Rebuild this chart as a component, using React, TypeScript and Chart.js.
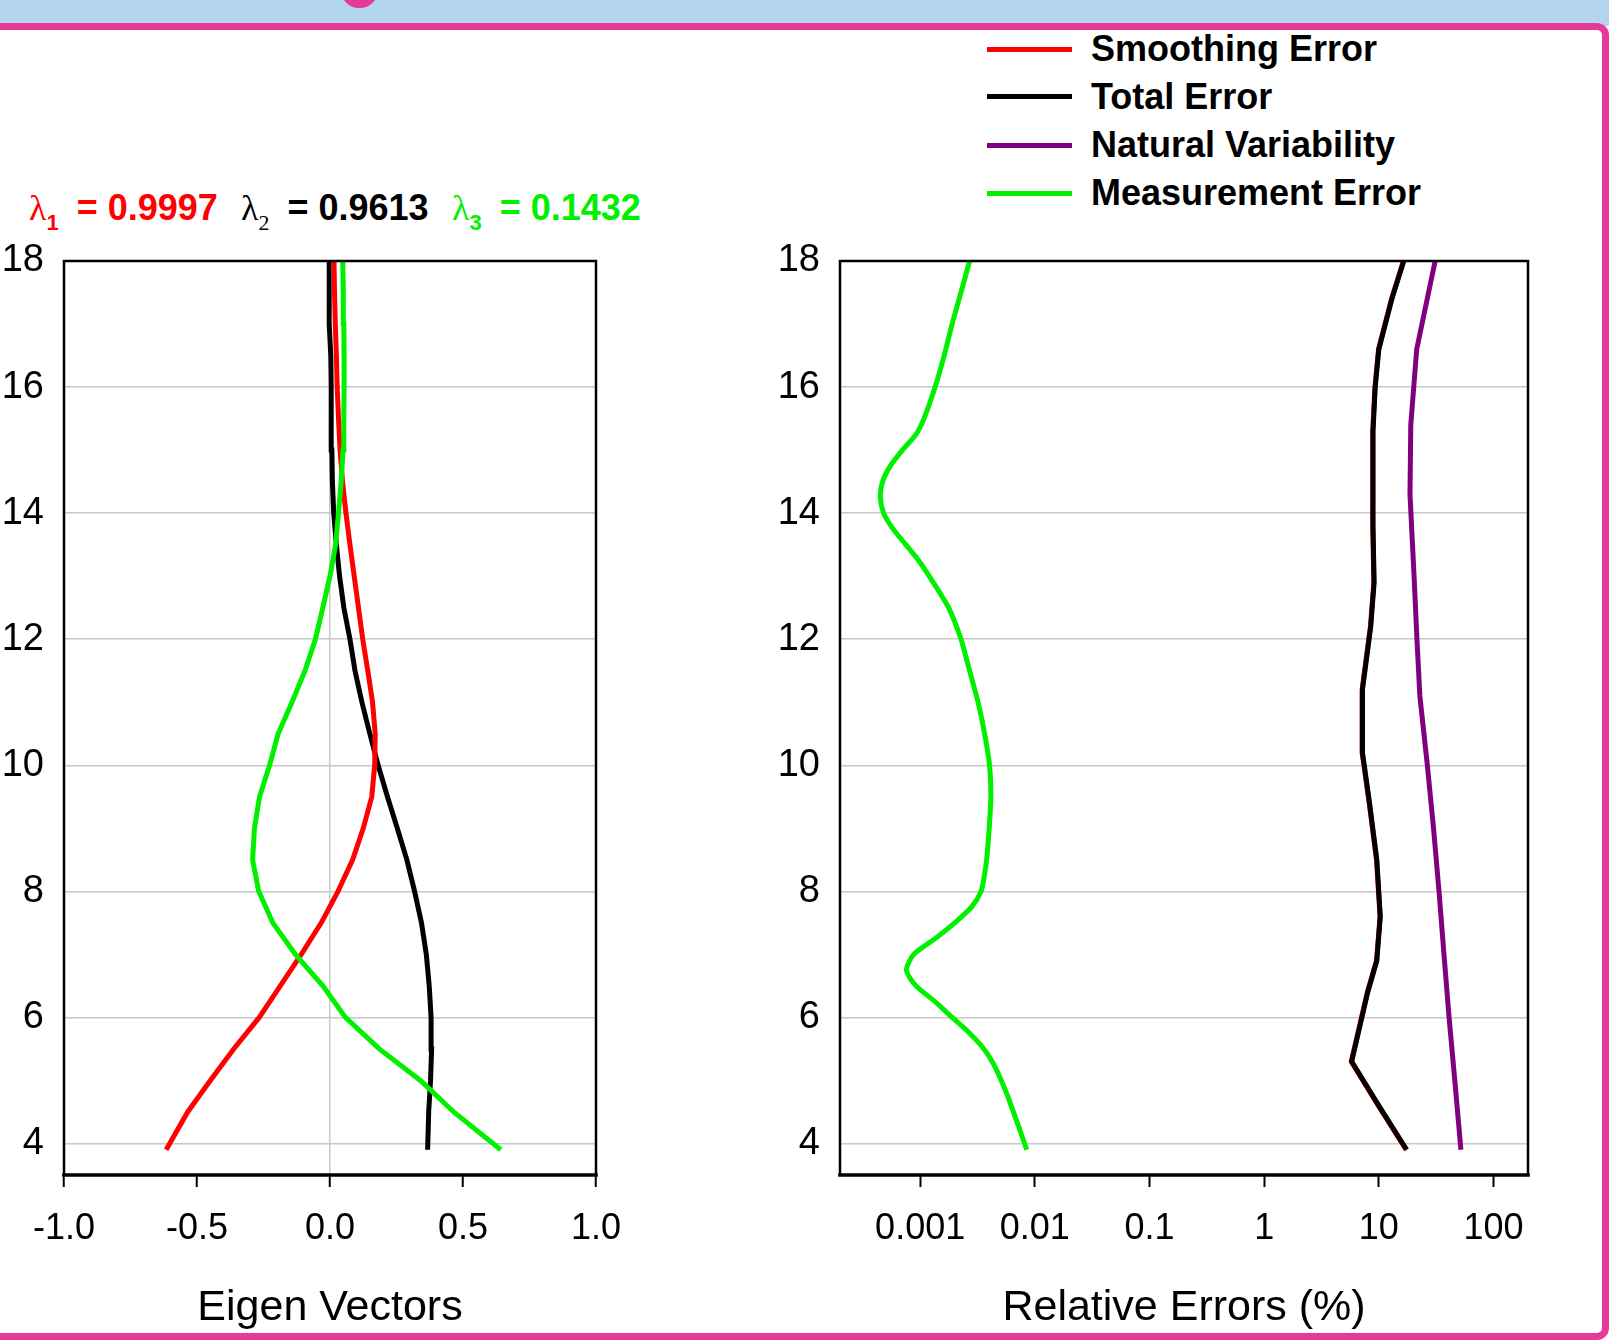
import React, { useEffect, useRef } from "react";
import { Chart, registerables } from "chart.js";

Chart.register(...registerables);

// ---------- data: left panel (eigen vectors vs altitude) ----------
const altLeft = [3.9, 4.5, 5.0, 5.5, 6.0, 6.5, 7.0, 7.5, 8.0, 8.5, 9.0, 9.5, 10.0, 10.5, 11.0, 11.5, 12.0, 12.5, 13.0, 13.5, 14.0, 14.5, 15.0, 15.5, 16.0, 16.5, 17.0, 17.5, 18.0];
const lambda1Vec = [-0.616, -0.535, -0.45, -0.362, -0.266, -0.187, -0.108, -0.033, 0.03, 0.085, 0.125, 0.157, 0.168, 0.17, 0.16, 0.142, 0.123, 0.107, 0.091, 0.075, 0.06, 0.047, 0.038, 0.032, 0.027, 0.024, 0.02, 0.017, 0.015];
const lambda2Vec = [0.367, 0.371, 0.378, 0.382, 0.38, 0.373, 0.362, 0.344, 0.318, 0.289, 0.253, 0.216, 0.181, 0.15, 0.12, 0.094, 0.075, 0.052, 0.036, 0.024, 0.014, 0.009, 0.007, 0.005, 0.004, 0.003, -0.003, -0.003, -0.003];
const lambda3Vec = [0.642, 0.465, 0.34, 0.185, 0.058, -0.027, -0.13, -0.215, -0.268, -0.291, -0.284, -0.265, -0.227, -0.195, -0.143, -0.094, -0.055, -0.027, 0.0, 0.021, 0.032, 0.042, 0.049, 0.052, 0.053, 0.053, 0.052, 0.05, 0.048];

// ---------- data: right panel (relative errors vs altitude) ----------
const altMeasurement = [3.9, 4.25, 4.5, 4.75, 5.0, 5.25, 5.5, 5.75, 6.0, 6.25, 6.5, 6.75, 7.0, 7.25, 7.5, 7.75, 8.0, 8.25, 8.5, 9.0, 9.5, 10.0, 10.5, 11.0, 11.5, 12.0, 12.5, 13.0, 13.25, 13.5, 13.75, 14.0, 14.25, 14.5, 14.75, 15.0, 15.25, 15.5, 16.0, 16.5, 17.0, 17.5, 18.0];
const measurementErr = [0.0085, 0.0073, 0.0065, 0.0058, 0.0051, 0.0044, 0.0036, 0.0027, 0.0019, 0.00135, 0.00092, 0.00076, 0.00088, 0.00135, 0.002, 0.0028, 0.0034, 0.00363, 0.0038, 0.004, 0.00414, 0.00403, 0.00365, 0.0032, 0.0027, 0.00227, 0.00177, 0.0012, 0.00097, 0.00075, 0.00058, 0.00048, 0.00045, 0.00047, 0.00055, 0.0007, 0.00092, 0.00108, 0.00135, 0.00162, 0.0019, 0.00227, 0.0027];

const altTotal = [3.9, 4.6, 5.3, 6.4, 6.9, 7.6, 8.5, 9.4, 10.2, 11.2, 12.2, 12.9, 13.8, 15.3, 16.0, 16.6, 17.4, 18.0];
const totalErr = [17.5, 10.0, 5.8, 8.0, 9.6, 10.3, 9.6, 8.3, 7.2, 7.2, 8.5, 9.1, 8.9, 8.9, 9.3, 10.0, 13.0, 16.5];
const smoothingErr = [17.3, 9.9, 5.75, 7.95, 9.55, 10.25, 9.55, 8.25, 7.15, 7.15, 8.45, 9.05, 8.85, 8.85, 9.25, 9.95, 12.9, 16.4];

const altNatural = [3.9, 5.0, 6.0, 7.0, 8.0, 9.0, 10.0, 11.1, 12.0, 13.0, 14.3, 15.4, 16.6, 18.0];
const naturalVar = [52, 46, 41, 37, 33.5, 30, 26.5, 22.8, 21.5, 20.3, 18.7, 19.0, 21.4, 31];

// ---------- ticks & labels ----------
const eigenTicks = [-1.0, -0.5, 0.0, 0.5, 1.0];
const errorTicks = [0.001, 0.01, 0.1, 1, 10, 100];
const altTicks = [4, 6, 8, 10, 12, 14, 16, 18];
const lambdaNames = ["1", "2", "3"];
const lambdaValues = ["0.9997", "0.9613", "0.1432"];
const legendLabels = ["Smoothing Error", "Total Error", "Natural Variability", "Measurement Error"];

const RED = "#FF0000";
const BLACK = "#000000";
const PURPLE = "#800080";
const GREEN = "#00F000";
const GRID = "#C8C8C8";
const PINK = "#E8399B";
const BLUE = "#B3D6EE";
const FONT = "'Liberation Sans', Arial, Helvetica, sans-serif";

const lambdaColors = [RED, BLACK, GREEN];
const legendColors = [RED, BLACK, PURPLE, GREEN];

const framePlugin = {
  id: "frame",
  afterDatasetsDraw(chart: any) {
    const { ctx, chartArea: a } = chart;
    ctx.save();
    ctx.strokeStyle = "#000";
    ctx.lineCap = "square";
    ctx.lineWidth = 2.5;
    ctx.beginPath();
    ctx.moveTo(a.left, a.bottom);
    ctx.lineTo(a.left, a.top);
    ctx.lineTo(a.right, a.top);
    ctx.lineTo(a.right, a.bottom);
    ctx.stroke();
    ctx.lineWidth = 3.5;
    ctx.beginPath();
    ctx.moveTo(a.left, a.bottom);
    ctx.lineTo(a.right, a.bottom);
    ctx.stroke();
    ctx.restore();
  },
};

function series(label: string, xs: number[], ys: number[], color: string, order: number, tension = 0) {
  return {
    label,
    data: ys.map((y, i) => ({ x: xs[i], y })),
    borderColor: color,
    backgroundColor: color,
    borderWidth: 5,
    showLine: true,
    pointRadius: 0,
    pointHoverRadius: 0,
    tension,
    order,
  };
}

function yAxis(width: number) {
  return {
    type: "linear",
    min: 3.5,
    max: 18,
    afterBuildTicks: (s: any) => {
      s.ticks = altTicks.map((v) => ({ value: v }));
    },
    afterFit: (s: any) => {
      s.width = width;
      s.paddingTop = 0;
      s.paddingBottom = 0;
    },
    border: { display: false },
    grid: { color: GRID, lineWidth: 1.5, drawTicks: false },
    ticks: { color: "#000", font: { family: FONT, size: 38 }, padding: 20 },
  };
}

function baseOptions(padRight: number, xScale: any, yWidth: number) {
  return {
    animation: false,
    responsive: false,
    events: [],
    layout: { padding: { top: 25, right: padRight, left: 0, bottom: 0 } },
    plugins: { legend: { display: false }, tooltip: { enabled: false }, title: { display: false } },
    scales: { x: xScale, y: yAxis(yWidth) },
  };
}

function xFit(s: any) {
  s.height = 155;
  s.paddingLeft = 0;
  s.paddingRight = 0;
}

function LeftChart() {
  const ref = useRef<HTMLCanvasElement>(null);
  useEffect(() => {
    if (!ref.current) return;
    const xScale = {
      type: "linear",
      min: -1,
      max: 1,
      afterBuildTicks: (s: any) => {
        s.ticks = eigenTicks.map((v) => ({ value: v }));
      },
      afterFit: xFit,
      border: { display: false },
      grid: {
        color: (c: any) => (c.tick && Math.abs(c.tick.value) < 1e-9 ? GRID : "rgba(0,0,0,0)"),
        lineWidth: 1.5,
        tickColor: "#000",
        tickWidth: 2,
        tickLength: 12,
      },
      ticks: {
        color: "#000",
        font: { family: FONT, size: 36 },
        padding: 20,
        maxRotation: 0,
        autoSkip: false,
        callback: (v: any) => Number(v).toFixed(1),
      },
      title: {
        display: true,
        text: "Eigen Vectors",
        color: "#000",
        font: { family: FONT, size: 43, lineHeight: 1.0 },
        padding: 0,
      },
    };
    const chart = new Chart(ref.current, {
      type: "scatter",
      data: {
        datasets: [
          series("λ1", lambda1Vec, altLeft, RED, 2),
          series("λ2", lambda2Vec, altLeft, BLACK, 3),
          series("λ3", lambda3Vec, altLeft, GREEN, 1),
        ],
      },
      options: baseOptions(44, xScale, 64) as any,
      plugins: [framePlugin],
    } as any);
    return () => chart.destroy();
  }, []);
  return (
    <canvas
      ref={ref}
      width={640}
      height={1094}
      style={{ position: "absolute", left: 0, top: 236, width: 640, height: 1094 }}
    />
  );
}

function RightChart() {
  const ref = useRef<HTMLCanvasElement>(null);
  useEffect(() => {
    if (!ref.current) return;
    const xScale = {
      type: "logarithmic",
      min: 0.0002,
      max: 200,
      afterBuildTicks: (s: any) => {
        s.ticks = errorTicks.map((v) => ({ value: v }));
      },
      afterFit: xFit,
      border: { display: false },
      grid: {
        drawOnChartArea: false,
        color: "#000",
        tickColor: "#000",
        tickWidth: 2,
        tickLength: 12,
      },
      ticks: {
        color: "#000",
        font: { family: FONT, size: 36 },
        padding: 20,
        maxRotation: 0,
        autoSkip: false,
        callback: (v: any) => String(v),
      },
      title: {
        display: true,
        text: "Relative Errors (%)",
        color: "#000",
        font: { family: FONT, size: 43, lineHeight: 1.0 },
        padding: 0,
      },
    };
    const chart = new Chart(ref.current, {
      type: "scatter",
      data: {
        datasets: [
          series("Smoothing Error", smoothingErr, altTotal, RED, 4),
          series("Total Error", totalErr, altTotal, BLACK, 2),
          series("Natural Variability", naturalVar, altNatural, PURPLE, 3),
          series("Measurement Error", measurementErr, altMeasurement, GREEN, 1, 0.25),
        ],
      },
      options: baseOptions(52, xScale, 100) as any,
      plugins: [framePlugin],
    } as any);
    return () => chart.destroy();
  }, []);
  return (
    <canvas
      ref={ref}
      width={840}
      height={1094}
      style={{ position: "absolute", left: 740, top: 236, width: 840, height: 1094 }}
    />
  );
}

const lambdaLefts = [29, 241, 452];
const legendCenters = [49, 96.5, 145, 193];

export default function App() {
  return (
    <div
      style={{
        position: "absolute",
        left: 0,
        top: 0,
        width: 1609,
        height: 1340,
        overflow: "hidden",
        background: "#FFFFFF",
        fontFamily: FONT,
      }}
    >
      <div style={{ position: "absolute", left: 0, top: 0, width: 1609, height: 26, background: BLUE }} />
      <div
        style={{
          position: "absolute",
          left: 341,
          top: -22,
          width: 37,
          height: 30,
          background: PINK,
          borderRadius: "0 0 18px 18px",
        }}
      />
      <div
        style={{
          position: "absolute",
          left: -30,
          top: 23,
          width: 1639,
          height: 1317,
          boxSizing: "border-box",
          border: `7px solid ${PINK}`,
          borderRadius: 12,
        }}
      />

      {lambdaNames.map((n, i) => (
        <div
          key={n}
          style={{
            position: "absolute",
            left: lambdaLefts[i],
            top: 188,
            lineHeight: "40px",
            whiteSpace: "pre",
            color: lambdaColors[i],
          }}
        >
          <span style={{ fontFamily: "'Liberation Serif', 'DejaVu Serif', serif", fontSize: 36 }}>λ</span>
          <span
            style={{
              fontSize: 22,
              fontWeight: i === 1 ? 400 : 700,
              verticalAlign: -10,
              fontFamily: i === 1 ? "'Liberation Serif', serif" : FONT,
            }}
          >
            {n}
          </span>
          <span style={{ fontSize: 36, fontWeight: 700, marginLeft: 8 }}>{" = " + lambdaValues[i]}</span>
        </div>
      ))}

      {legendLabels.map((lab, i) => (
        <React.Fragment key={lab}>
          <div
            style={{
              position: "absolute",
              left: 987,
              top: legendCenters[i] - 2.5,
              width: 85,
              height: 5,
              background: legendColors[i],
            }}
          />
          <div
            style={{
              position: "absolute",
              left: 1091,
              top: legendCenters[i] - 20,
              lineHeight: "40px",
              fontSize: 36,
              fontWeight: 700,
              color: "#000",
              whiteSpace: "pre",
            }}
          >
            {lab}
          </div>
        </React.Fragment>
      ))}

      <LeftChart />
      <RightChart />
    </div>
  );
}
